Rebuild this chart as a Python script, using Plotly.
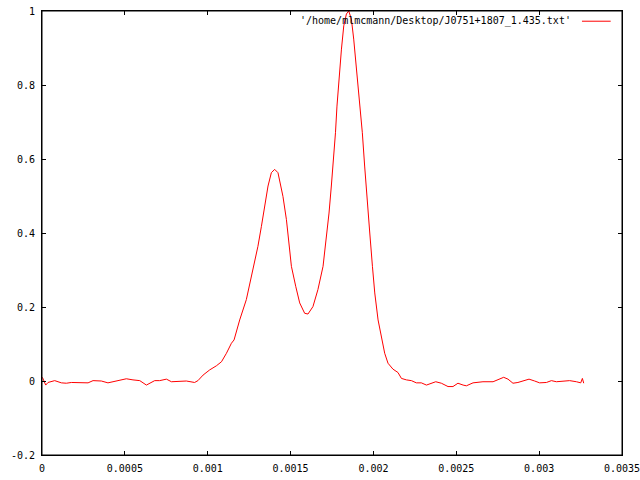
import plotly.graph_objects as go

# Data
x_vals = [
    0.0000024, 0.0000103, 0.0000223, 0.0000362, 0.0000766, 0.000117, 0.000147, 0.000177,
    0.000228, 0.000278, 0.000308, 0.000358, 0.000398, 0.000449, 0.000509, 0.000549,
    0.000590, 0.000630, 0.000654, 0.000680, 0.000710, 0.000751, 0.000781, 0.000821,
    0.000871, 0.000921, 0.000941, 0.000972, 0.001012, 0.001052, 0.001083, 0.001113,
    0.001143, 0.001159, 0.001193, 0.001233, 0.001273, 0.001303, 0.001324, 0.001344,
    0.001364, 0.001384, 0.001404, 0.001424, 0.001454, 0.001475, 0.001491, 0.001505,
    0.001531, 0.001555, 0.001585, 0.001605, 0.001635, 0.001665, 0.001696, 0.001716,
    0.001732, 0.001746, 0.001760, 0.001771, 0.001780, 0.001792, 0.001807, 0.001821,
    0.001837, 0.001851, 0.001867, 0.001881, 0.001897, 0.001917, 0.001933, 0.001947,
    0.001961, 0.001978, 0.001994, 0.002008, 0.002028, 0.002048, 0.002054, 0.002068,
    0.002088, 0.002118, 0.002148, 0.002169, 0.002199, 0.002229, 0.002259, 0.002289,
    0.002320, 0.002350, 0.002376, 0.002410, 0.002450, 0.002480, 0.002510, 0.002541,
    0.002561, 0.002601, 0.002661, 0.002722, 0.002752, 0.002786, 0.002812, 0.002842,
    0.002872, 0.002903, 0.002939, 0.002973, 0.003003, 0.003044, 0.003074, 0.003104,
    0.003144, 0.003184, 0.003225, 0.003251, 0.003261, 0.003269,
]
y_vals = [
    0.010, 0.003, -0.011, -0.004, 0.001, -0.005, -0.006, -0.004,
    -0.005, -0.005, 0.001, 0.000, -0.005, 0.001, 0.006, 0.003,
    0.001, -0.011, -0.006, 0.001, 0.001, 0.005, -0.002, -0.002,
    0.000, -0.004, 0.001, 0.016, 0.030, 0.041, 0.052, 0.075,
    0.102, 0.111, 0.165, 0.220, 0.301, 0.364, 0.418, 0.472,
    0.527, 0.563, 0.572, 0.563, 0.499, 0.436, 0.364, 0.310,
    0.256, 0.211, 0.183, 0.181, 0.201, 0.247, 0.310, 0.382,
    0.454, 0.527, 0.599, 0.671, 0.743, 0.816, 0.897, 0.960,
    0.992, 1.000, 0.978, 0.924, 0.852, 0.762, 0.671, 0.581,
    0.491, 0.400, 0.310, 0.238, 0.165, 0.120, 0.111, 0.075,
    0.048, 0.032, 0.023, 0.007, 0.003, 0.001, -0.005, -0.005,
    -0.011, -0.006, -0.002, -0.006, -0.015, -0.015, -0.006, -0.011,
    -0.013, -0.005, -0.002, -0.002, 0.003, 0.010, 0.005, -0.006,
    -0.004, 0.001, 0.005, 0.000, -0.005, -0.004, 0.001, -0.002,
    -0.001, 0.001, -0.002, -0.005, 0.007, -0.006,
]
x_ticks = [0, 0.0005, 0.001, 0.0015, 0.002, 0.0025, 0.003, 0.0035]
x_tick_text = ["0", "0.0005", "0.001", "0.0015", "0.002", "0.0025", "0.003", "0.0035"]
y_ticks = [-0.2, 0, 0.2, 0.4, 0.6, 0.8, 1]
y_tick_text = ["-0.2", "0", "0.2", "0.4", "0.6", "0.8", "1"]
legend_label = "'/home/mlmcmann/Desktop/J0751+1807_1.435.txt'"

FONT = dict(family="DejaVu Sans Mono", size=10, color="black")

fig = go.Figure()
fig.add_trace(go.Scatter(
    x=x_vals, y=y_vals, mode="lines",
    line=dict(color="#ff0000", width=1),
    name=legend_label, showlegend=False, hoverinfo="skip",
))

axis_common = dict(
    showgrid=False, zeroline=False, showline=True, linecolor="black", linewidth=1,
    mirror="allticks", ticks="inside", ticklen=4, tickcolor="black", tickwidth=1,
    tickfont=FONT, tickmode="array", automargin=False, ticklabeloverflow="allow",
)
fig.update_xaxes(range=[0, 0.0035], tickvals=x_ticks, ticktext=x_tick_text,
                 ticklabelstandoff=4, **axis_common)
fig.update_yaxes(range=[-0.2, 1], tickvals=y_ticks, ticktext=y_tick_text,
                 ticklabelstandoff=4, **axis_common)

# Plot border box
fig.add_shape(type="rect", xref="paper", yref="paper", x0=0, x1=1, y0=0, y1=1,
              line=dict(color="black", width=1), layer="above")

# Legend (gnuplot style: text then line sample)
fig.add_annotation(xref="paper", yref="paper", x=0.915, y=0.977,
                   xanchor="right", yanchor="middle", showarrow=False,
                   text=legend_label, font=FONT)
fig.add_shape(type="line", xref="paper", yref="paper",
              x0=0.931, x1=0.9805, y0=0.977, y1=0.977,
              line=dict(color="#ff0000", width=1))

fig.update_layout(
    width=640, height=480,
    margin=dict(l=42, r=18, t=11, b=25),
    paper_bgcolor="white", plot_bgcolor="white",
    showlegend=False,
)
fig.write_html("out.html", config={"displayModeBar": False},
               post_script="document.body.style.margin='0px';")
